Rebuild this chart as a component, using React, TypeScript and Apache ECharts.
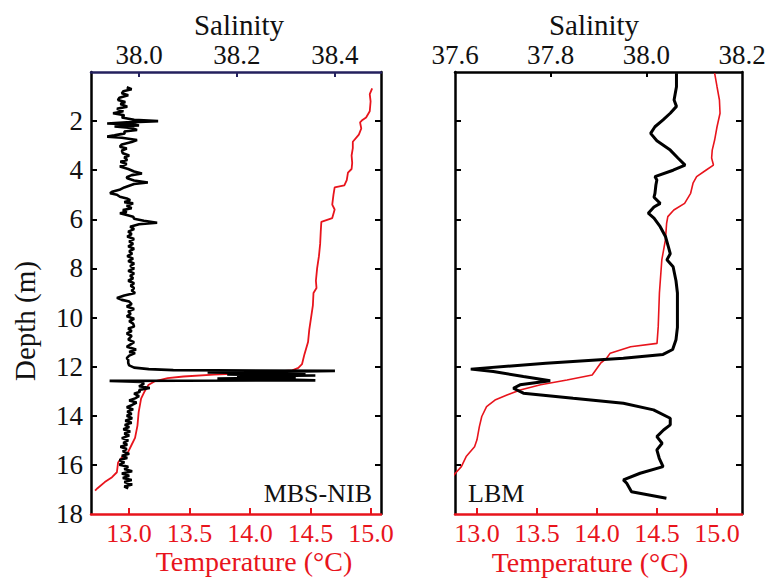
import React, { useEffect, useRef } from "react";
import * as echarts from "echarts";

// ---------- Data ----------
// Left panel: MBS-NIB
const mbsSalDepth = [0.62,0.7,0.78,0.87,0.95,1.05,1.14,1.22,1.3,1.41,1.5,1.6,1.68,1.76,1.85,1.89,1.95,2.0,2.05,2.1,2.14,2.18,2.22,2.28,2.36,2.42,2.5,2.58,2.63,2.68,2.77,2.85,2.95,3.04,3.12,3.2,3.31,3.4,3.48,3.58,3.66,3.75,3.85,3.95,4.05,4.13,4.2,4.28,4.33,4.42,4.5,4.56,4.63,4.7,4.8,4.88,4.94,5.0,5.08,5.15,5.22,5.3,5.35,5.45,5.55,5.62,5.7,5.75,5.82,5.89,5.98,6.06,6.14,6.2,6.3,6.4,6.5,6.6,6.7,6.8,6.9,7.0,7.1,7.2,7.3,7.4,7.5,7.6,7.7,7.8,7.9,8.0,8.1,8.2,8.3,8.4,8.5,8.6,8.7,8.8,8.9,9.0,9.1,9.2,9.28,9.35,9.45,9.55,9.65,9.75,9.85,9.95,10.05,10.15,10.25,10.37,10.45,10.55,10.65,10.75,10.9,11.0,11.1,11.19,11.3,11.4,11.45,11.55,11.65,11.72,11.85,11.95,12.04,12.1,12.14,12.17,12.2,12.24,12.28,12.32,12.36,12.4,12.44,12.48,12.52,12.56,12.58,12.62,12.7,12.8,12.87,12.95,13.02,13.1,13.2,13.29,13.38,13.46,13.56,13.65,13.74,13.83,13.92,14.0,14.1,14.2,14.28,14.37,14.46,14.55,14.64,14.72,14.8,14.91,15.0,15.1,15.18,15.26,15.35,15.45,15.55,15.63,15.72,15.8,15.9,15.99,16.08,16.17,16.26,16.35,16.44,16.53,16.62,16.7,16.8,16.88,16.96];
const mbsSalinity = [37.975,37.985,37.968,37.965,37.978,37.96,37.957,37.972,37.962,37.976,37.955,37.968,37.947,37.97,37.965,37.976,37.99,38.039,37.975,37.935,37.99,38.0,37.95,37.985,37.996,37.97,37.971,37.95,37.935,37.965,37.996,37.985,37.965,37.961,37.975,37.965,37.967,37.98,37.97,37.976,37.962,37.975,37.961,37.978,37.99,38.006,37.985,37.975,37.976,37.99,38.018,37.99,37.98,37.97,37.96,37.945,37.941,37.955,37.961,37.975,37.982,37.97,37.988,37.975,37.985,37.967,37.975,37.961,37.975,37.988,37.99,38.01,38.037,38.0,37.982,37.99,37.978,37.985,37.976,37.99,37.98,37.988,37.978,37.99,37.98,37.986,37.976,37.988,37.978,37.99,37.982,37.99,37.978,37.99,37.982,37.988,37.978,37.99,37.983,37.99,37.985,37.992,37.97,37.955,37.965,37.98,37.985,37.975,37.99,37.978,37.983,37.975,37.99,37.98,37.988,37.99,37.978,37.985,37.975,37.985,37.978,37.99,37.982,37.975,37.994,37.98,37.992,37.98,37.975,37.978,37.978,37.98,37.99,38.02,38.07,38.40,38.30,38.14,38.34,38.18,38.36,38.2,38.32,38.16,38.30,38.36,37.94,38.005,38.01,38.0,38.022,38.0,38.002,37.99,38.0,37.992,37.98,37.995,37.986,37.975,37.988,37.976,37.985,37.975,37.986,37.972,37.985,37.971,37.98,37.968,37.982,37.97,37.98,37.965,37.978,37.968,37.976,37.962,37.975,37.967,37.98,37.965,37.976,37.96,37.97,37.96,37.978,37.97,37.986,37.965,37.98,37.967,37.985,37.97,37.986,37.97,37.978];
const mbsTempDepth = [0.67,0.9,1.2,1.6,1.85,1.95,2.05,2.3,2.55,2.84,3.1,3.4,3.7,3.95,4.1,4.4,4.62,4.7,5.0,5.4,5.6,5.95,6.05,6.1,6.5,7.0,7.5,8.0,8.5,8.8,9.0,9.5,10.0,10.5,11.0,11.5,11.9,12.05,12.15,12.25,12.32,12.4,12.47,12.6,12.75,13.0,13.3,13.85,14.4,14.9,15.2,15.5,15.7,15.9,16.3,16.5,16.7,16.95,17.05];
const mbsTemperature = [15.01,14.99,14.997,14.99,14.96,14.93,14.91,14.92,14.9,14.85,14.85,14.84,14.845,14.84,14.81,14.8,14.78,14.7,14.69,14.68,14.7,14.68,14.62,14.59,14.585,14.58,14.57,14.555,14.545,14.55,14.525,14.52,14.505,14.49,14.48,14.45,14.43,14.4,14.35,14.05,13.7,13.45,13.32,13.21,13.16,13.13,13.1,13.08,13.07,13.05,13.02,12.99,12.94,12.91,12.9,12.86,12.8,12.74,12.72];

// Right panel: LBM
const lbmSalDepth = [0.05,0.6,1.14,1.4,1.68,1.95,2.23,2.5,2.8,3.18,3.5,3.79,4.0,4.26,4.4,4.6,4.94,5.1,5.35,5.5,5.75,5.95,6.3,6.7,7.11,7.4,7.65,7.93,8.5,9.0,9.8,10.4,10.9,11.3,11.5,11.66,11.86,12.1,12.2,12.4,12.57,12.74,12.88,13.08,13.29,13.49,13.76,14.1,14.37,14.58,14.85,15.12,15.39,15.73,16.07,16.34,16.61,16.75,17.09,17.36];
const lbmSalinity = [38.063,38.063,38.058,38.063,38.05,38.035,38.018,38.009,38.022,38.05,38.066,38.081,38.056,38.018,38.022,38.02,38.018,38.016,38.029,38.016,38.004,38.016,38.029,38.04,38.046,38.05,38.043,38.056,38.062,38.065,38.065,38.065,38.062,38.055,38.035,37.952,37.79,37.633,37.68,37.743,37.799,37.736,37.722,37.743,37.847,37.952,38.015,38.05,38.05,38.036,38.022,38.033,38.022,38.027,38.035,37.987,37.952,37.959,37.969,38.042];
const lbmTempDepth = [0.05,0.6,1.14,1.68,2.23,2.77,3.18,3.5,3.79,3.99,4.26,4.53,4.94,5.35,5.62,5.89,6.16,6.84,7.65,9.0,10.37,11.05,11.19,11.45,11.66,11.86,12.34,12.54,12.74,12.95,13.15,13.36,13.63,14.03,14.44,14.98,15.26,15.66,16.07,16.34,16.6];
const lbmTemperature = [14.98,15.0,15.02,15.025,15.0,14.98,14.96,14.955,14.97,14.91,14.83,14.8,14.78,14.73,14.64,14.59,14.58,14.57,14.54,14.52,14.51,14.5,14.28,14.11,14.08,14.03,13.96,13.75,13.53,13.36,13.25,13.15,13.08,13.04,13.02,13.0,12.98,12.91,12.87,12.82,12.78];

// Tick values
const depthTicks = [2, 4, 6, 8, 10, 12, 14, 16, 18];
const depthInnerTicks = [2, 4, 6, 8, 10, 12, 14, 16];
const mbsSalinityTicks = [38.0, 38.2, 38.4];
const lbmSalinityTicks = [37.6, 37.8, 38.0, 38.2];
const temperatureTicks = [13.0, 13.5, 14.0, 14.5, 15.0];

const FONT = "Liberation Serif";
const RED = "#e8141c";
const NAVY = "#24215e";
const INK = "#111111";

const zip = (xs: number[], ys: number[]) => xs.map((x, i) => [x, ys[i]]);

export default function App() {
  const ref = useRef<HTMLDivElement>(null);

  useEffect(() => {
    if (!ref.current) return;
    const chart = echarts.init(ref.current, undefined, { renderer: "svg" });

    const labelBase = { fontFamily: FONT, fontSize: 27 };
    const fmt1 = (v: number) => v.toFixed(1);

    const topAxis = (grid: number, min: number, max: number, ticks: number[], color: string, tickVals: number[]) => ({
      type: "value",
      gridIndex: grid,
      position: "top",
      min,
      max,
      axisLine: { show: true, onZero: false, lineStyle: { color, width: 2.5 } },
      axisTick: { show: true, inside: true, length: 5, customValues: tickVals, lineStyle: { color, width: 2 } },
      axisLabel: { ...labelBase, color: INK, margin: 4, customValues: ticks, formatter: fmt1 },
      splitLine: { show: false },
    });

    const bottomAxis = (grid: number, min: number, max: number) => ({
      type: "value",
      gridIndex: grid,
      position: "bottom",
      min,
      max,
      axisLine: { show: true, onZero: false, lineStyle: { color: RED, width: 2.5 } },
      axisTick: { show: true, inside: true, length: 6, customValues: temperatureTicks, lineStyle: { color: RED, width: 2 } },
      axisLabel: { ...labelBase, fontSize: 26, color: RED, margin: 6, customValues: temperatureTicks, formatter: fmt1 },
      splitLine: { show: false },
    });

    const depthAxis = (grid: number, position: string, labels: boolean) => ({
      type: "value",
      gridIndex: grid,
      position,
      inverse: true,
      min: 0,
      max: 18,
      axisLine: { show: true, onZero: false, lineStyle: { color: "#000", width: 2.5 } },
      axisTick: { show: true, inside: true, length: 6, customValues: depthInnerTicks, lineStyle: { color: "#000", width: 2 } },
      axisLabel: labels
        ? { ...labelBase, color: INK, margin: 8, customValues: depthTicks }
        : { show: false },
      splitLine: { show: false },
    });

    const textEl = (x: number, y: number, text: string, size: number, fill: string, align = "center", rotation = 0) => ({
      type: "text",
      x,
      y,
      rotation,
      silent: true,
      style: {
        text,
        fill,
        fontFamily: FONT,
        fontSize: size,
        align,
        textAlign: align,
        verticalAlign: "middle",
        textVerticalAlign: "middle",
      },
    });

    chart.setOption({
      animation: false,
      backgroundColor: "#ffffff",
      textStyle: { fontFamily: FONT },
      grid: [
        { left: 91, top: 72, width: 290, height: 442 },
        { left: 455, top: 72, width: 287, height: 442 },
      ],
      xAxis: [
        topAxis(0, 37.902, 38.494, mbsSalinityTicks, NAVY, mbsSalinityTicks),
        bottomAxis(0, 12.686, 15.083),
        topAxis(1, 37.6, 38.2, lbmSalinityTicks, "#000", [37.8, 38.0]),
        bottomAxis(1, 12.817, 15.208),
      ],
      yAxis: [
        depthAxis(0, "left", true),
        depthAxis(0, "right", false),
        depthAxis(1, "left", false),
        depthAxis(1, "right", false),
      ],
      series: [
        {
          type: "line",
          name: "MBS-NIB temperature",
          xAxisIndex: 1,
          yAxisIndex: 0,
          data: zip(mbsTemperature, mbsTempDepth),
          showSymbol: false,
          symbol: "none",
          lineStyle: { color: RED, width: 1.8 },
          z: 2,
        },
        {
          type: "line",
          name: "MBS-NIB salinity",
          xAxisIndex: 0,
          yAxisIndex: 0,
          data: zip(mbsSalinity, mbsSalDepth),
          showSymbol: false,
          symbol: "none",
          lineStyle: { color: "#000", width: 2.6 },
          z: 3,
        },
        {
          type: "line",
          name: "LBM temperature",
          xAxisIndex: 3,
          yAxisIndex: 2,
          data: zip(lbmTemperature, lbmTempDepth),
          showSymbol: false,
          symbol: "none",
          lineStyle: { color: RED, width: 1.6 },
          z: 2,
        },
        {
          type: "line",
          name: "LBM salinity",
          xAxisIndex: 2,
          yAxisIndex: 2,
          data: zip(lbmSalinity, lbmSalDepth),
          showSymbol: false,
          symbol: "none",
          lineStyle: { color: "#000", width: 3 },
          z: 3,
        },
      ],
      graphic: [
        textEl(239, 25, "Salinity", 29, INK),
        textEl(594, 25, "Salinity", 29, INK),
        textEl(254, 561, "Temperature (°C)", 28, RED),
        textEl(590, 562, "Temperature (°C)", 28, RED),
        textEl(25, 321, "Depth (m)", 29, INK, "center", Math.PI / 2),
        textEl(372, 493, "MBS-NIB", 26, INK, "right"),
        textEl(468, 493, "LBM", 26, INK, "left"),
      ],
    } as any);

    return () => chart.dispose();
  }, []);

  return (
    <div
      ref={ref}
      style={{ position: "fixed", left: 0, top: 0, width: 770, height: 578, background: "#fff" }}
    />
  );
}
